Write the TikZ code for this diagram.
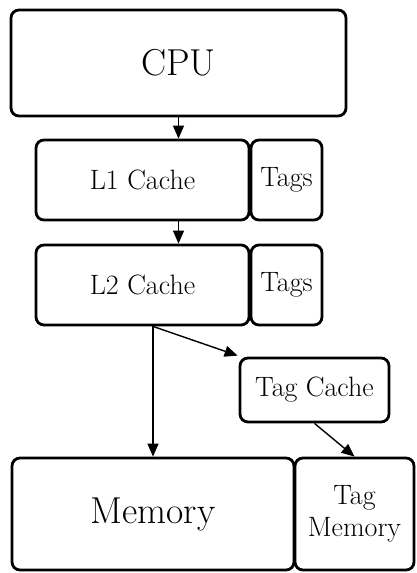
\documentclass[tikz,border=0pt]{standalone}
\usetikzlibrary{arrows.meta}
\begin{document}
\begin{tikzpicture}[x=1pt,y=-1pt,
  box/.style={draw,line width=2.8pt,rounded corners=8pt,inner sep=0pt,anchor=center,align=center},
  conn/.style={line width=1.4pt,-{Triangle[length=13pt,width=11pt]}},
  big/.style={font=\fontsize{37.5}{42}\selectfont},
  small/.style={font=\fontsize{28}{32}\selectfont}]
\useasboundingbox (0,0) rectangle (417,573);
\node[box,big,minimum width=335pt,minimum height=106pt] (cpu) at (178.5,63) {CPU};
\node[box,small,minimum width=213pt,minimum height=80pt] (l1) at (142.5,180) {L1 Cache};
\node[box,small,minimum width=71pt,minimum height=80pt] (t1) at (286.5,180) {Tags};
\node[box,small,minimum width=213pt,minimum height=80pt] (l2) at (142.5,285) {L2 Cache};
\node[box,small,minimum width=71pt,minimum height=80pt] (t2) at (286.5,285) {Tags};
\node[box,small,minimum width=149pt,minimum height=64pt] (tc) at (314.5,390) {Tag Cache};
\node[box,big,minimum width=282pt,minimum height=112pt] (mem) at (153,514) {Memory};
\node[box,small,minimum width=119pt,minimum height=112pt] (tm) at (354.5,514) {Tag\\Memory};
\draw[conn] (cpu.south) -- (cpu.south |- l1.north);
\draw[conn] (cpu.south |- l1.south) -- (cpu.south |- l2.north);
\coordinate (split) at (mem.north |- l2.south);
\draw[conn] (split) -- (mem.north);
\draw[conn] (split) -- ([shift={(-1pt,1pt)}]tc.north west);
\draw[conn] (tc.south) -- (tm.north);
\end{tikzpicture}
\end{document}
